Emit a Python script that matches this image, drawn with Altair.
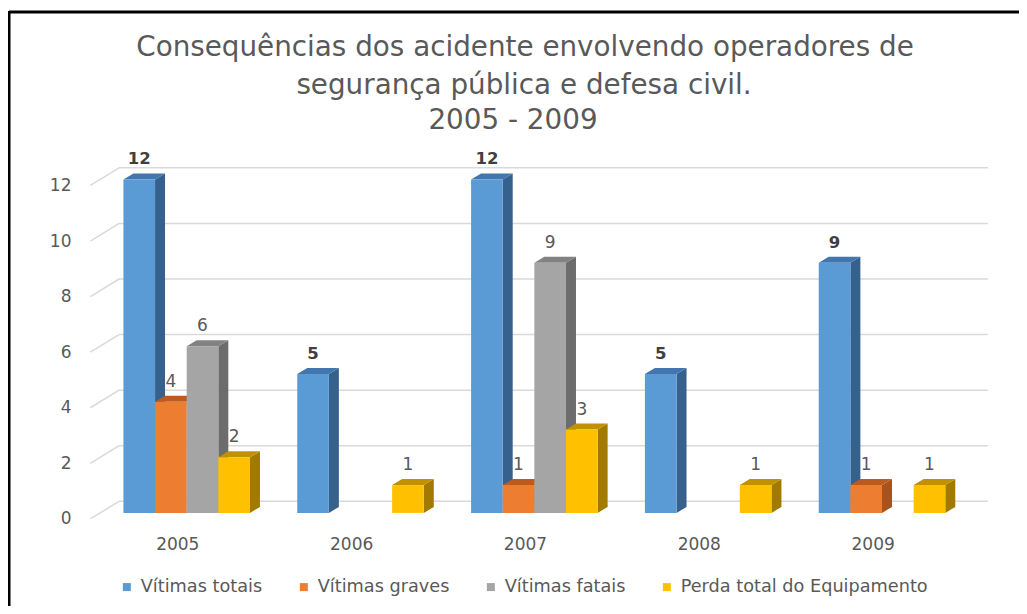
import altair as alt
import pandas as pd

# ---------------- data ----------------
years = ["2005", "2006", "2007", "2008", "2009"]
series = ["Vítimas totais", "Vítimas graves", "Vítimas fatais", "Perda total do Equipamento"]
vitimas_totais = [12, 5, 12, 5, 9]
vitimas_graves = [4, None, 1, None, 1]
vitimas_fatais = [6, None, 9, None, None]
perda_total = [2, 1, 3, 1, 1]
y_ticks = [0, 2, 4, 6, 8, 10, 12]
title_lines = ["Consequências dos acidente envolvendo operadores de",
               "segurança pública e defesa civil.",
               "2005 - 2009"]

# ---------------- styles ----------------
front_colors = ["#5B9BD5", "#ED7D31", "#A5A5A5", "#FFC000"]
top_colors = ["#4276AE", "#BC5B1E", "#828282", "#C29100"]
side_colors = ["#37618D", "#A9521B", "#6C6C6C", "#A27A00"]
grid_color = "#D9D9D9"
text_color = "#595959"
FONT = "DejaVu Sans"

# 3D geometry in scale units (x: one year band = 1, y: value units)
BW = 0.182      # bar width
GAP = 0.19      # front-plane band start -> first bar
DX, DY = 0.0575, 0.216    # bar depth
DXF, DYF = 0.165, 0.633   # full floor depth
GRID_END = 5.163

all_vals = [vitimas_totais, vitimas_graves, vitimas_fatais, perda_total]

fronts, tops, sides = [], [], []
for i, (s, vals) in enumerate(zip(series, all_vals)):
    for k, v in enumerate(vals):
        if v is None:
            continue
        left = k + GAP + i * BW
        right = left + BW
        bid = f"{k}-{i}"
        fronts.append(dict(series=s, year=years[k], v=v, left=left, right=right,
                           mid=left + BW / 2, y0=DY, y1=v + DY, bold=(i == 0)))
        for x, lo, hi in [(left, v + DY, v + DY), (left + DX, v + DY, v + 2 * DY),
                          (right, v + DY, v + 2 * DY), (right + DX, v + 2 * DY, v + 2 * DY)]:
            tops.append(dict(series=s, bid=bid, x=x, lo=lo, hi=hi))
        for x, lo, hi in [(right, DY, v + DY), (right + DX, 2 * DY, v + 2 * DY)]:
            sides.append(dict(series=s, bid=bid, x=x, lo=lo, hi=hi))

front_df = pd.DataFrame(fronts)
top_df = pd.DataFrame(tops)
side_df = pd.DataFrame(sides)
grid_df = pd.DataFrame([dict(t=t, xa=0.0, xb=DXF, ya=t, yb=t + DYF, xc=DXF, xd=GRID_END, yc=t + DYF)
                        for t in y_ticks])

xs = alt.Scale(domain=[-0.1, 5.25], nice=False, zero=False)
ys = alt.Scale(domain=[-0.4, 13.6], nice=False, zero=False)

year_expr = "[" + ",".join(f"'{y}'" for y in years) + "][floor(datum.value)]"
x_axis = alt.Axis(values=[k + 0.5 for k in range(len(years))], labelExpr=year_expr,
                  domain=False, ticks=False, grid=False, labelPadding=6,
                  labelFont=FONT, labelFontSize=17, labelColor=text_color,
                  labelFlush=False, title=None)
y_axis = alt.Axis(values=y_ticks, domain=False, ticks=False, grid=False, labelPadding=2,
                  labelFont=FONT, labelFontSize=17, labelColor=text_color, title=None)


def X(field):
    return alt.X(field, scale=xs, axis=x_axis)


def Y(field):
    return alt.Y(field, scale=ys, axis=y_axis, stack=None)


grid_diag = alt.Chart(grid_df).mark_rule(color=grid_color, strokeWidth=1.5).encode(
    x=X("xa:Q"), x2="xb:Q", y=Y("ya:Q"), y2="yb:Q")
grid_back = alt.Chart(grid_df).mark_rule(color=grid_color, strokeWidth=1.5).encode(
    x=X("xc:Q"), x2="xd:Q", y=Y("yc:Q"))

side_layer = alt.Chart(side_df).mark_area(opacity=1).encode(
    x=X("x:Q"), y=Y("lo:Q"), y2="hi:Q", detail="bid:N",
    color=alt.Color("series:N", scale=alt.Scale(domain=series, range=side_colors), legend=None))

top_layer = alt.Chart(top_df).mark_area(opacity=1).encode(
    x=X("x:Q"), y=Y("lo:Q"), y2="hi:Q", detail="bid:N",
    color=alt.Color("series:N", scale=alt.Scale(domain=series, range=top_colors), legend=None))

front_layer = alt.Chart(front_df).mark_rect(opacity=1).encode(
    x=X("left:Q"), x2="right:Q", y=Y("y0:Q"), y2="y1:Q",
    color=alt.Color("series:N", scale=alt.Scale(domain=series, range=front_colors),
                    legend=alt.Legend(title=None, orient="none", legendX=45, legendY=437,
                                      direction="horizontal", columns=4, symbolType="square",
                                      symbolSize=64, symbolStrokeWidth=0, labelOffset=5,
                                      columnPadding=32, padding=0, labelLimit=0,
                                      labelFont=FONT, labelFontSize=17.7,
                                      labelColor=text_color)))

labels_bold = alt.Chart(front_df).transform_filter("datum.bold").mark_text(
    dy=-20, font=FONT, fontSize=16.5, fontWeight="bold", color="#404040",
    baseline="middle").encode(x=X("mid:Q"), y=Y("y1:Q"), text="v:Q")
labels_norm = alt.Chart(front_df).transform_filter("!datum.bold").mark_text(
    dy=-20, font=FONT, fontSize=17, color=text_color,
    baseline="middle").encode(x=X("mid:Q"), y=Y("y1:Q"), text="v:Q")

one = pd.DataFrame({"a": [0]})
title_x = [452, 451, 440]
title_y = [-93, -55, -20]
title_layers = [
    alt.Chart(one).mark_text(text=line, font=FONT, fontSize=27.8, color=text_color,
                             align="center", baseline="middle").encode(
        x=alt.value(tx), y=alt.value(ty))
    for line, tx, ty in zip(title_lines, title_x, title_y)
]

frame_top = alt.Chart(one).mark_rule(color="black", strokeWidth=3).encode(
    x=alt.value(-64), x2=alt.value(960), y=alt.value(-129))
frame_left = alt.Chart(one).mark_rule(color="black", strokeWidth=3).encode(
    x=alt.value(-64), y=alt.value(-130), y2=alt.value(480))

chart = alt.layer(grid_diag, grid_back, side_layer, top_layer, front_layer,
                  labels_bold, labels_norm, *title_layers, frame_top, frame_left).resolve_scale(
    color="independent").properties(
    width=930, height=389,
    padding={"left": 65, "top": 133, "right": 16, "bottom": 76},
    autosize=alt.AutoSizeParams(type="none"),
    background="white",
).configure_view(strokeWidth=0)

chart.save("out.html", embed_options={"renderer": "svg", "actions": False})
